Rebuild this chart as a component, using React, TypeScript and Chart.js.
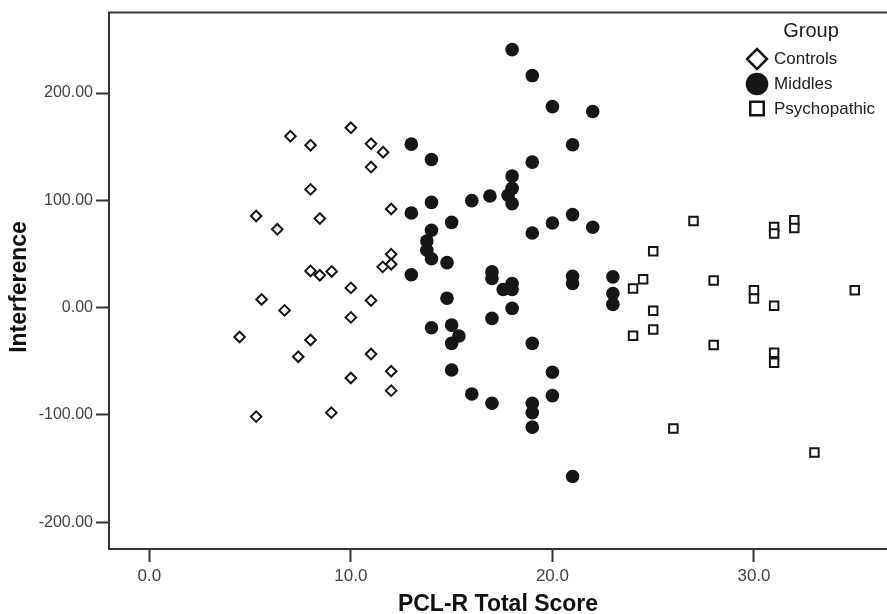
import React, { useEffect, useRef } from "react";
import { Chart, registerables } from "chart.js";

Chart.register(...registerables);

// ---- Data ----
const groupLabels = ["Controls", "Middles", "Psychopathic"];

const controlsX = [10.0, 7.0, 8.0, 11.0, 11.6, 11.0, 8.0, 12.0, 5.3, 8.46, 6.35, 12.0, 12.0, 11.58, 8.0, 8.46, 9.05, 10.0, 5.57, 11.0, 6.71, 10.0, 4.48, 8.0, 7.39, 11.0, 12.0, 10.0, 12.0, 5.3, 9.03];
const controlsY = [167.6, 159.8, 151.4, 152.7, 144.9, 131.0, 110.2, 91.9, 85.4, 83.0, 73.0, 49.8, 40.5, 38.0, 34.2, 30.2, 33.7, 18.4, 7.6, 6.7, -2.6, -9.1, -27.4, -30.2, -45.8, -43.3, -59.3, -65.6, -77.4, -101.6, -97.9];

const middlesX = [18, 19, 20, 22, 21, 13, 14, 19, 18, 18, 17.8, 18, 16.9, 16, 14, 13, 21, 20, 22, 19, 15, 14, 13.77, 13.77, 14, 14.77, 13, 17, 17, 18, 17.56, 18, 21, 21, 23, 23, 23, 14.77, 18, 17, 14, 15, 15.36, 15, 19, 15, 20, 16, 17, 20, 19, 19, 19, 21];
const middlesY = [240.5, 216.3, 187.4, 182.8, 151.8, 152.4, 138.1, 135.6, 122.6, 111.2, 104.7, 96.9, 104.0, 99.7, 98.1, 88.2, 86.7, 78.9, 74.9, 69.6, 79.5, 72.1, 62.1, 53.5, 45.6, 41.9, 30.7, 33.3, 27.2, 22.5, 16.9, 16.9, 29.3, 22.5, 28.7, 13.2, 3.0, 8.8, -0.7, -10.0, -18.8, -16.3, -26.5, -33.3, -33.3, -58.1, -60.3, -80.5, -89.1, -82.0, -89.1, -97.9, -111.4, -157.4];

const psychoX = [27, 31, 31, 32, 32, 25, 24.5, 24, 28, 30, 30, 35, 31, 25, 25, 24, 28, 31, 31, 26, 33];
const psychoY = [80.7, 75.2, 69.0, 81.4, 74.2, 52.6, 26.5, 17.9, 25.3, 16.3, 8.6, 16.3, 1.7, -3.0, -20.3, -26.2, -34.9, -42.0, -51.3, -112.7, -135.1];

const xTicks = [0, 10, 20, 30];
const yTicks = [-200, -100, 0, 100, 200];
const xRange = [-2, 36.6];
const yRange = [-225, 275];

const xTitle = "PCL-R Total Score";
const yTitle = "Interference";
const legendTitle = "Group";

const FONT = '"Liberation Sans", Arial, Helvetica, sans-serif';
const INK = "#161616";
const AXIS = "#333333";

function zip(xs: number[], ys: number[]) {
  return xs.map((x, i) => ({ x, y: ys[i] }));
}

const framePlugin = {
  id: "frameTop",
  afterDraw(chart: any) {
    const { ctx, chartArea } = chart;
    ctx.save();
    ctx.strokeStyle = AXIS;
    ctx.lineWidth = 2;
    ctx.beginPath();
    ctx.moveTo(chartArea.left - 1, chartArea.top);
    ctx.lineTo(chartArea.right, chartArea.top);
    ctx.stroke();
    // y axis title
    ctx.fillStyle = "#111";
    ctx.font = `bold 23px ${FONT}`;
    ctx.textAlign = "center";
    ctx.textBaseline = "middle";
    ctx.translate(20, 287);
    ctx.rotate(-Math.PI / 2);
    ctx.fillText(yTitle, 0, 0);
    ctx.restore();
  },
};

const legendPlugin = {
  id: "groupLegend",
  afterDraw(chart: any) {
    const { ctx } = chart;
    ctx.save();
    ctx.fillStyle = "#222";
    ctx.textAlign = "center";
    ctx.textBaseline = "middle";
    ctx.font = `20px ${FONT}`;
    ctx.fillText(legendTitle, 811, 31);

    const rows = [59, 84, 108.5];
    const mx = 757;
    chart.data.datasets.forEach((ds: any, i: number) => {
      const y = rows[i];
      ctx.lineWidth = 2.5;
      ctx.strokeStyle = INK;
      ctx.fillStyle = "#fff";
      ctx.beginPath();
      if (ds.pointStyle === "rectRot") {
        const r = 10;
        ctx.moveTo(mx - r, y);
        ctx.lineTo(mx, y - r);
        ctx.lineTo(mx + r, y);
        ctx.lineTo(mx, y + r);
        ctx.closePath();
        ctx.fill();
        ctx.stroke();
      } else if (ds.pointStyle === "circle") {
        ctx.arc(mx, y, 11.3, 0, Math.PI * 2);
        ctx.fillStyle = INK;
        ctx.fill();
      } else {
        const s = 13.5;
        ctx.rect(mx - s / 2, y - s / 2, s, s);
        ctx.fill();
        ctx.stroke();
      }
      ctx.fillStyle = "#222";
      ctx.textAlign = "left";
      ctx.font = `17px ${FONT}`;
      ctx.fillText(ds.label, 774, y + 0.5);
    });
    ctx.restore();
  },
};

export default function App() {
  const ref = useRef<HTMLCanvasElement | null>(null);

  useEffect(() => {
    const canvas = ref.current;
    if (!canvas) return;
    const chart = new Chart(canvas, {
      type: "scatter",
      data: {
        datasets: [
          {
            label: groupLabels[0],
            data: zip(controlsX, controlsY),
            pointStyle: "rectRot",
            pointRadius: 5.3,
            borderWidth: 2,
            borderColor: INK,
            backgroundColor: "#ffffff",
          },
          {
            label: groupLabels[1],
            data: zip(middlesX, middlesY),
            pointStyle: "circle",
            pointRadius: 6.8,
            borderWidth: 0,
            borderColor: INK,
            backgroundColor: INK,
          },
          {
            label: groupLabels[2],
            data: zip(psychoX, psychoY),
            pointStyle: "rect",
            pointRadius: 6,
            borderWidth: 2,
            borderColor: INK,
            backgroundColor: "#ffffff",
          },
        ],
      } as any,
      options: {
        animation: false,
        responsive: false,
        devicePixelRatio: 1,
        layout: { autoPadding: false, padding: { left: 0, top: 12, right: 0, bottom: 0 } },
        plugins: {
          legend: { display: false },
          tooltip: { enabled: false },
        },
        scales: {
          x: {
            type: "linear",
            min: xRange[0],
            max: xRange[1],
            afterBuildTicks: (s: any) => {
              s.ticks = xTicks.map((v) => ({ value: v }));
            },
            afterFit: (s: any) => {
              s.height = 65;
            },
            ticks: {
              callback: (v: any) => Number(v).toFixed(1),
              font: { family: FONT, size: 17 },
              color: "#444",
              padding: 4,
              maxRotation: 0,
            },
            grid: {
              drawOnChartArea: false,
              drawTicks: true,
              tickLength: 13,
              tickColor: AXIS,
              tickWidth: 2,
            },
            border: { display: true, color: AXIS, width: 2 },
            title: {
              display: true,
              text: xTitle,
              color: "#111",
              font: { family: FONT, size: 23, weight: "bold" },
              padding: { top: 0, bottom: -4 },
            },
          },
          y: {
            type: "linear",
            min: yRange[0],
            max: yRange[1],
            afterBuildTicks: (s: any) => {
              s.ticks = yTicks.map((v) => ({ value: v }));
            },
            afterFit: (s: any) => {
              s.width = 109;
            },
            ticks: {
              callback: (v: any) => Number(v).toFixed(2),
              font: { family: FONT, size: 16 },
              color: "#444",
              padding: 3,
            },
            grid: {
              drawOnChartArea: false,
              drawTicks: true,
              tickLength: 13,
              tickColor: AXIS,
              tickWidth: 2,
            },
            border: { display: true, color: AXIS, width: 2 },
            title: { display: false, text: yTitle },
          },
        },
      } as any,
      plugins: [framePlugin, legendPlugin],
    });
    return () => chart.destroy();
  }, []);

  return (
    <canvas
      ref={ref}
      width={887}
      height={614}
      style={{ position: "fixed", left: 0, top: 0, width: 887, height: 614, display: "block", background: "#fff" }}
    />
  );
}
